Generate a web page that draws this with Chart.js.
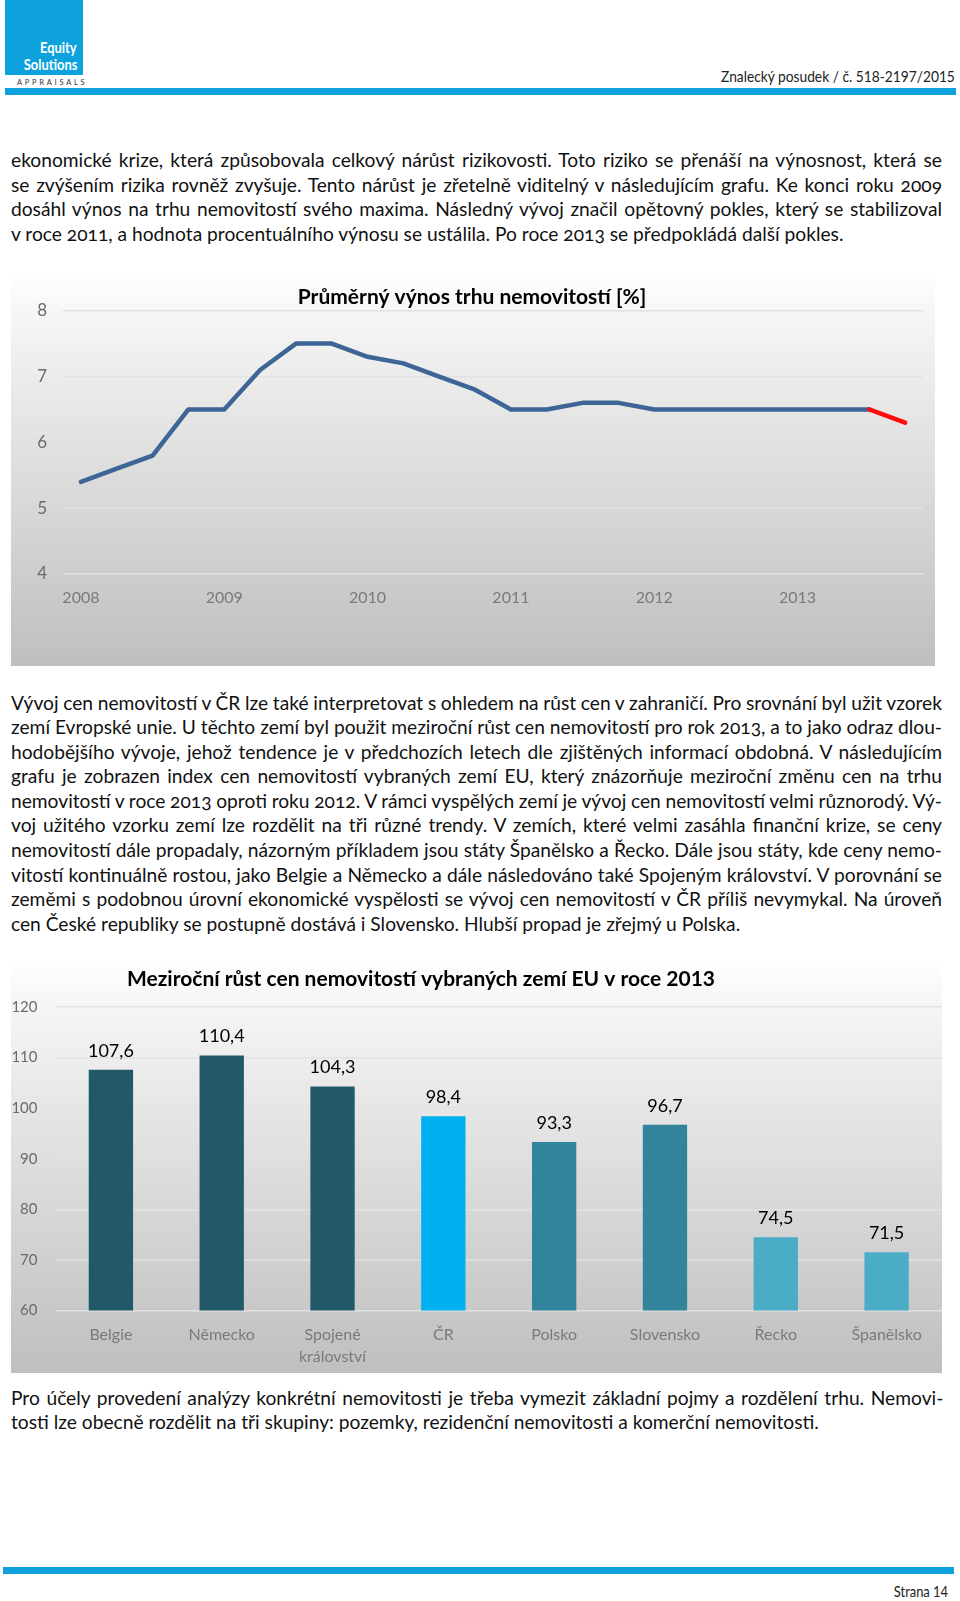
<!DOCTYPE html>
<html lang="cs">
<head>
<meta charset="utf-8">
<title>Znalecký posudek – strana 14</title>
<script src="https://cdn.jsdelivr.net/npm/chart.js@4.4.1/dist/chart.umd.min.js"></script>
<style>
  html, body { margin: 0; padding: 0; background: #fff; }
  body { width: 960px; height: 1601px; position: relative; overflow: hidden;
         font-family: Lato, "Open Sans", sans-serif; color: #111; }
  .abs { position: absolute; }
  .logo { left: 5px; top: 0; width: 78px; height: 75px; background: #0ea2dd; }
  .logo span { position: absolute; right: 6px; color: #fff; font-weight: 700; font-size: 15px;
               transform: scaleX(0.86); transform-origin: right center; }
  .appraisals { left: 17px; top: 78px; font-size: 7.5px; letter-spacing: 2.75px; color: #333; }
  .bar { background: #0ea2dd; height: 7px; }
  .narrow { transform: scaleX(0.86); transform-origin: right center; white-space: nowrap; color: #222; }
  .para { left: 11px; width: 931px; font-size: 19.2px; line-height: 24.6px;
          font-variant-numeric: oldstyle-nums; }
  .para div { white-space: nowrap; }
  .panel { left: 11px; }
  .grad { background: linear-gradient(#ffffff 0%, #f6f6f6 10%, #bfbfbf 100%); }
</style>
</head>
<body>

<!-- header -->
<div class="abs logo">
  <span style="top:38px">Equity</span>
  <span style="top:55px">Solutions</span>
</div>
<div class="abs appraisals">APPRAISALS</div>
<div class="abs narrow" style="right:5px; top:66px; font-size:16px;">Znalecký posudek / č. 518-2197/2015</div>
<div class="abs bar" style="left:5px; top:88px; width:951px;"></div>

<!-- text above first chart -->
<div class="abs para" style="top:148px;">
  <div class="j"><span>ekonomické krize, která způsobovala celkový nárůst rizikovosti. Toto riziko se přenáší na výnosnost, která se</span></div>
  <div class="j"><span>se zvýšením rizika rovněž zvyšuje. Tento nárůst je zřetelně viditelný v následujícím grafu. Ke konci roku 2009</span></div>
  <div class="j"><span>dosáhl výnos na trhu nemovitostí svého maxima. Následný vývoj značil opětovný pokles, který se stabilizoval</span></div>
  <div><span>v roce 2011, a hodnota procentuálního výnosu se ustálila. Po roce 2013 se předpokládá další pokles.</span></div>
</div>

<!-- line chart -->
<div class="abs panel grad" style="top:272px; width:924px; height:394px;">
  <canvas id="yieldChart"></canvas>
</div>

<!-- text between charts -->
<div class="abs para" style="top:690.5px;">
  <div class="j"><span>Vývoj cen nemovitostí v ČR lze také interpretovat s ohledem na růst cen v zahraničí. Pro srovnání byl užit vzorek</span></div>
  <div class="j"><span>zemí Evropské unie. U těchto zemí byl použit meziroční růst cen nemovitostí pro rok 2013, a to jako odraz dlou-</span></div>
  <div class="j"><span>hodobějšího vývoje, jehož tendence je v předchozích letech dle zjištěných informací obdobná. V následujícím</span></div>
  <div class="j"><span>grafu je zobrazen index cen nemovitostí vybraných zemí EU, který znázorňuje meziroční změnu cen na trhu</span></div>
  <div class="j"><span>nemovitostí v roce 2013 oproti roku 2012. V rámci vyspělých zemí je vývoj cen nemovitostí velmi různorodý. Vý-</span></div>
  <div class="j"><span>voj užitého vzorku zemí lze rozdělit na tři různé trendy. V zemích, které velmi zasáhla finanční krize, se ceny</span></div>
  <div class="j"><span>nemovitostí dále propadaly, názorným příkladem jsou státy Španělsko a Řecko. Dále jsou státy, kde ceny nemo-</span></div>
  <div class="j"><span>vitostí kontinuálně rostou, jako Belgie a Německo a dále následováno také Spojeným království. V porovnání se</span></div>
  <div class="j"><span>zeměmi s podobnou úrovní ekonomické vyspělosti se vývoj cen nemovitostí v ČR příliš nevymykal. Na úroveň</span></div>
  <div><span>cen České republiky se postupně dostává i Slovensko. Hlubší propad je zřejmý u Polska.</span></div>
</div>

<!-- bar chart -->
<div class="abs panel grad" style="top:959px; width:931px; height:414px;">
  <canvas id="priceChart"></canvas>
</div>

<!-- text below second chart -->
<div class="abs para" style="top:1385.5px; width:934px;">
  <div class="j"><span>Pro účely provedení analýzy konkrétní nemovitosti je třeba vymezit základní pojmy a rozdělení trhu.  Nemovi-</span></div>
  <div><span>tosti lze obecně rozdělit na tři skupiny: pozemky, rezidenční nemovitosti a komerční nemovitosti.</span></div>
</div>

<!-- footer -->
<div class="abs bar" style="left:3px; top:1567px; width:951px;"></div>
<div class="abs narrow" style="right:12px; top:1582px; font-size:15px;">Strana 14</div>

<script>
// Justify the hand-broken lines: spread the words over the full width
document.querySelectorAll('.para .j').forEach(line => {
    const span = line.firstElementChild;
    const spaces = (span.textContent.match(/ /g) || []).length;
    const extra = line.clientWidth - span.getBoundingClientRect().width;
    if (spaces) span.style.wordSpacing = (extra / spaces) + 'px';
});

// Line chart data - quarterly yield 2008-2013, last quarter is the forecast
const quarterLabels = ['2008', '', '', '', '2009', '', '', '', '2010', '', '', '',
                       '2011', '', '', '', '2012', '', '', '', '2013', '', '', ''];
const yieldValues = [5.4, 5.6, 5.8, 6.5, 6.5, 7.1, 7.5, 7.5, 7.3, 7.2, 7.0, 6.8,
                     6.5, 6.5, 6.6, 6.6, 6.5, 6.5, 6.5, 6.5, 6.5, 6.5, 6.5, 6.3];
const forecastIndex = 23;
const yieldTicks = [4, 5, 6, 7, 8];

// Bar chart data - price index 2013 (2012 = 100)
const countries = ['Belgie', 'Německo', ['Spojené', 'království'], 'ČR',
                   'Polsko', 'Slovensko', 'Řecko', 'Španělsko'];
const priceIndex = [107.6, 110.4, 104.3, 98.4, 93.3, 96.7, 74.5, 71.5];
const barColors = ['#215968', '#215968', '#215968', '#00b0f0',
                   '#31849b', '#31849b', '#4bacc6', '#4bacc6'];
const priceTicks = [60, 70, 80, 90, 100, 110, 120];

Chart.defaults.font.family = 'Lato, "Open Sans", sans-serif';

// Title drawn at a fixed spot of the canvas (the originals are not centred on the plot)
function chartTitle(text, x, y) {
    return {
        id: 'chartTitle',
        afterDraw(chart) {
            const ctx = chart.ctx;
            ctx.save();
            ctx.font = 'bold 21px Lato, "Open Sans", sans-serif';
            ctx.fillStyle = '#000';
            ctx.textAlign = 'center';
            ctx.textBaseline = 'middle';
            ctx.fillText(text, x, y);
            ctx.restore();
        }
    };
}

// Value labels above bars, Czech decimal comma
const valueLabels = {
    id: 'valueLabels',
    afterDatasetsDraw(chart) {
        const ctx = chart.ctx;
        ctx.save();
        ctx.font = '18px Lato, "Open Sans", sans-serif';
        ctx.fillStyle = '#000';
        ctx.textAlign = 'center';
        ctx.textBaseline = 'middle';
        chart.getDatasetMeta(0).data.forEach((bar, i) => {
            ctx.fillText(priceIndex[i].toFixed(1).replace('.', ','), bar.x, bar.y - 19);
        });
        ctx.restore();
    }
};

const blue = '#3d6596';

new Chart(document.getElementById('yieldChart'), {
    type: 'line',
    data: {
        labels: quarterLabels,
        datasets: [{
            data: yieldValues,
            borderColor: blue,
            borderWidth: 4.5,
            borderCapStyle: 'round',
            borderJoinStyle: 'round',
            pointRadius: 0,
            tension: 0,
            segment: {
                borderColor: ctx => ctx.p1DataIndex >= forecastIndex ? '#ff0d0d' : blue
            }
        }]
    },
    options: {
        responsive: true,
        maintainAspectRatio: false,
        animation: false,
        layout: { autoPadding: false, padding: { top: 38.7, right: 12, bottom: 0, left: 0 } },
        plugins: { legend: { display: false }, tooltip: { enabled: false } },
        scales: {
            x: {
                offset: true,
                grid: { display: false, drawTicks: false },
                border: { display: false },
                ticks: { autoSkip: false, maxRotation: 0, padding: 14, color: '#7a7a7a', font: { size: 16 } },
                afterFit: s => { s.height = 92; }
            },
            y: {
                min: yieldTicks[0],
                max: yieldTicks[yieldTicks.length - 1],
                afterBuildTicks: s => { s.ticks = yieldTicks.map(v => ({ value: v })); },
                ticks: { padding: 16, color: '#6a6a6a', font: { size: 17 } },
                grid: { color: '#e2e2e2', lineWidth: 1.5, drawTicks: false },
                border: { display: false },
                afterFit: s => { s.width = 52; }
            }
        }
    },
    plugins: [chartTitle('Průměrný výnos trhu nemovitostí [%]', 461, 25)]
});

new Chart(document.getElementById('priceChart'), {
    type: 'bar',
    data: {
        labels: countries,
        datasets: [{
            data: priceIndex,
            backgroundColor: barColors,
            barPercentage: 0.4,
            categoryPercentage: 1
        }]
    },
    options: {
        responsive: true,
        maintainAspectRatio: false,
        animation: false,
        layout: { autoPadding: false, padding: { top: 48, right: 0, bottom: 0, left: 0 } },
        plugins: { legend: { display: false }, tooltip: { enabled: false } },
        scales: {
            x: {
                grid: { display: false, drawTicks: false },
                border: { display: false },
                ticks: { autoSkip: false, maxRotation: 0, padding: 13, color: '#7a7a7a',
                         font: { size: 16, lineHeight: 1.4 } },
                afterFit: s => { s.height = 62.5; }
            },
            y: {
                min: priceTicks[0],
                max: priceTicks[priceTicks.length - 1],
                afterBuildTicks: s => { s.ticks = priceTicks.map(v => ({ value: v })); },
                ticks: { padding: 18, color: '#6a6a6a', font: { size: 15 } },
                grid: { color: '#e2e2e2', lineWidth: 1.5, drawTicks: false },
                border: { display: false },
                afterFit: s => { s.width = 44.5; }
            }
        }
    },
    plugins: [valueLabels, chartTitle('Meziroční růst cen nemovitostí vybraných zemí EU v roce 2013', 410, 20)]
});
</script>
</body>
</html>
